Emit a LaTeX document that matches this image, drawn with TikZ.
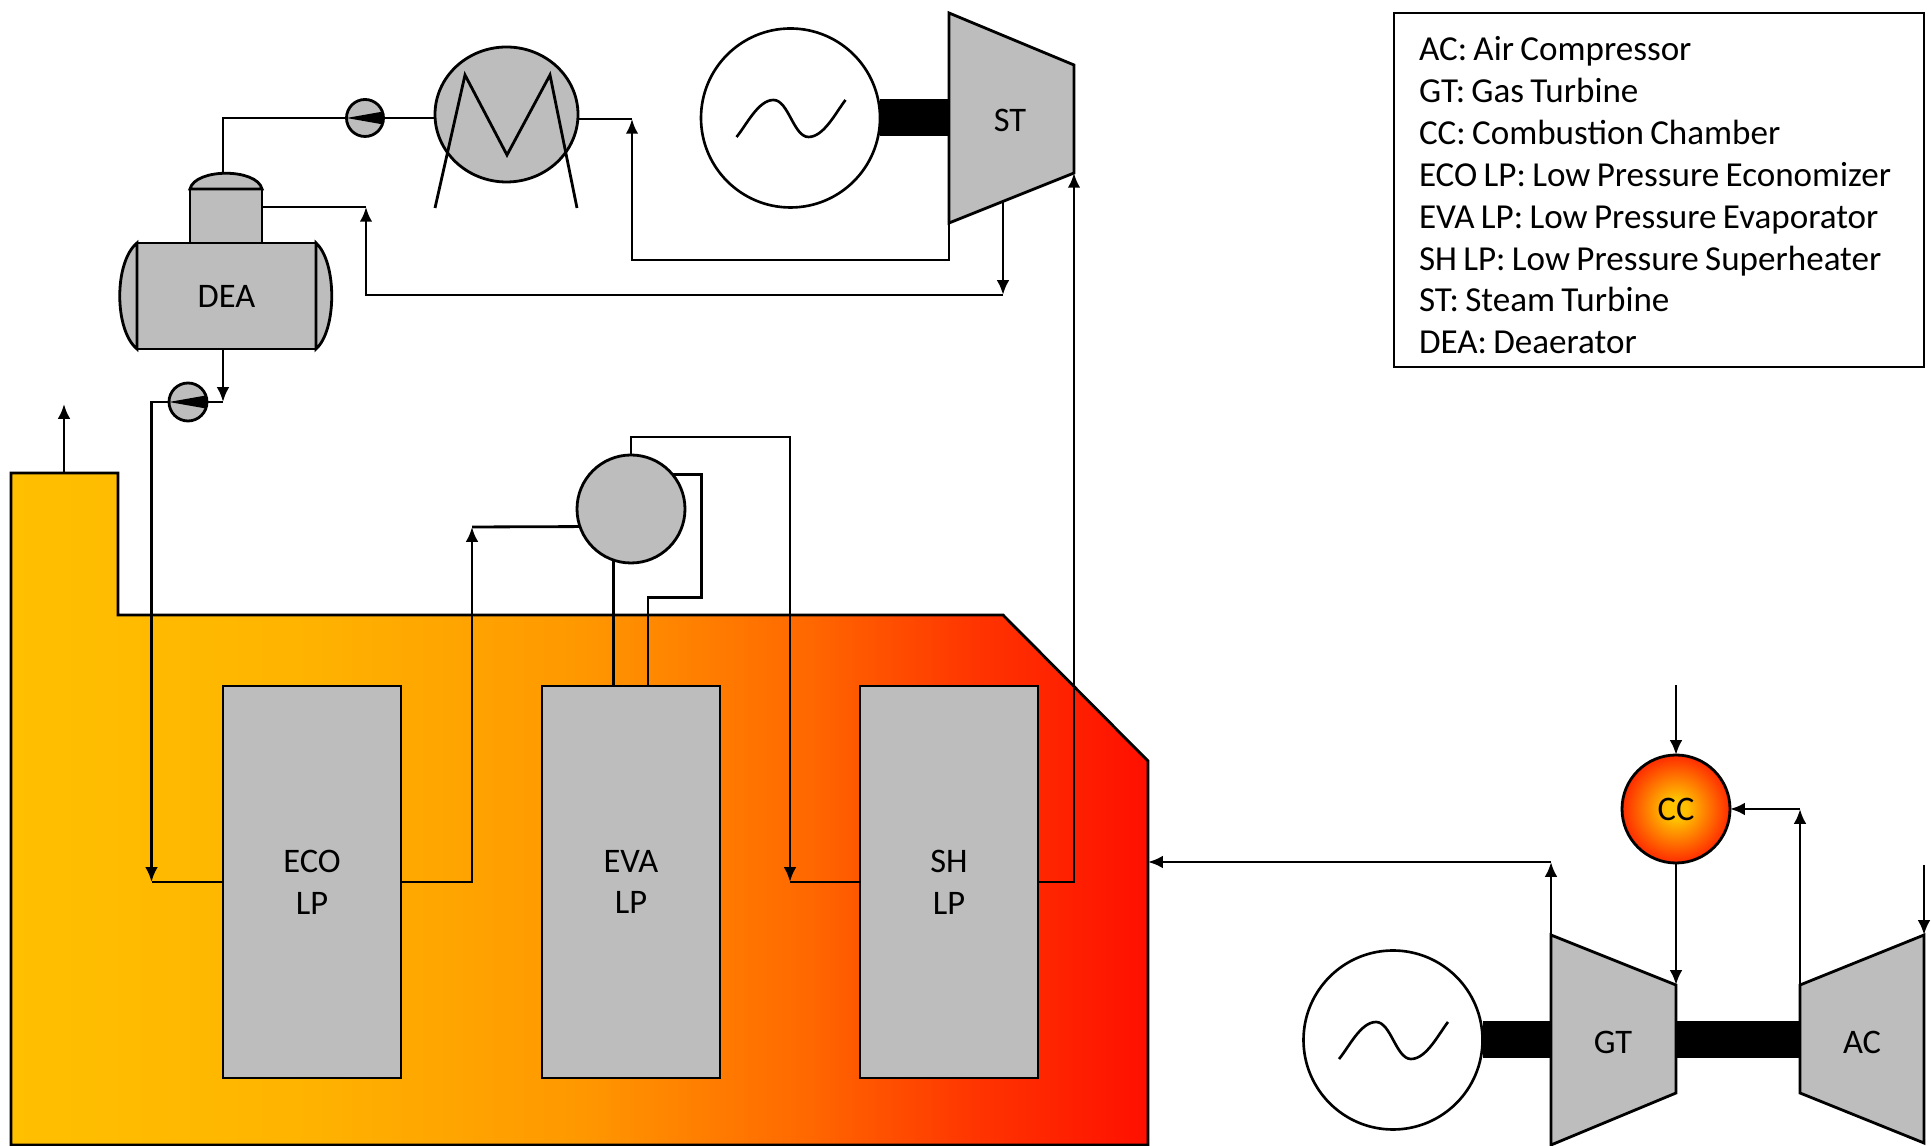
\documentclass[tikz,border=0pt]{standalone}
\usepackage{fontspec}
\setmainfont[WordSpace=0.8]{Carlito}
\usepackage{tikz}
\usetikzlibrary{shapes,arrows.meta,positioning,calc}
\definecolor{equipgray}{HTML}{BDBDBD}
\pgfdeclarehorizontalshading{gasheat}{100bp}{rgb(0bp)=(1,0.753,0); rgb(25bp)=(1,0.753,0); rgb(37.5bp)=(1,0.706,0); rgb(50bp)=(1,0.596,0); rgb(60bp)=(1,0.408,0); rgb(67.5bp)=(1,0.204,0); rgb(75bp)=(1,0.06,0); rgb(100bp)=(1,0.06,0)}
\pgfdeclareradialshading{ccglow}{\pgfpoint{0bp}{0bp}}{rgb(0bp)=(1,0.753,0); rgb(5bp)=(1,0.753,0); rgb(29bp)=(1,0.05,0); rgb(50bp)=(1,0.05,0)}
\tikzset{
    pipe/.style={line width=0.8pt,>={Latex[length=4.2pt,width=3.6pt]}},
    equip/.style={draw,line width=0.8pt,fill=equipgray,outer sep=0pt},
    vessel/.style={equip,minimum width=#1,minimum height=3.92cm,align=center,inner sep=0pt},
    roundeq/.style={equip,circle,minimum size=#1,inner sep=0pt},
    generator/.style={draw,line width=0.75pt,fill=white,circle,minimum size=1.79cm,inner sep=0pt,outer sep=0pt},
    shaft/.style={line width=0.37cm}
}
\begin{document}
\begin{tikzpicture}[font=\fontsize{9.8}{11.9}\selectfont]
    \useasboundingbox (0,0) rectangle (19.31,11.46);

    \shade[draw,line width=0.8pt,shading=gasheat]
        (0.11,0.01) -- (0.11,6.73) -- (1.18,6.73) -- (1.18,5.31) -- (10.03,5.31) -- (11.48,3.85) -- (11.48,0.01) -- cycle;

    \node[vessel=1.78cm] (eco) at (3.12,2.64) {ECO\\LP};
    \node[vessel=1.78cm] (eva) at (6.31,2.64) {EVA\\LP};
    \node[vessel=1.78cm] (sh) at (9.49,2.64) {SH\\LP};
    \node[roundeq=1.08cm] (drum) at (6.31,6.37) {};

    \coordinate (stack) at (0.64,6.73);
    \coordinate (stackout) at (0.64,7.42);
    \coordinate (deatop) at (2.23,9.74);
    \coordinate (pumpin) at (2.23,7.44);
    \coordinate (ecoin) at (1.515,2.64);
    \coordinate (ecotop) at (4.72,6.19);
    \coordinate (shin) at (7.90,2.64);
    \coordinate (stout) at (9.49,9.23);
    \coordinate (stturn) at (6.32,8.86);
    \coordinate (condin) at (6.32,10.27);
    \coordinate (stext) at (10.03,9.45);
    \coordinate (extturn) at (10.03,8.51);
    \coordinate (deain) at (3.66,9.39);
    \coordinate (stin) at (10.74,9.73);
    \coordinate (stshaft) at (9.49,10.28);
    \coordinate (gasin) at (11.48,2.84);
    \coordinate (gtout) at (15.51,2.11);
    \coordinate (gtturn) at (15.51,2.84);
    \coordinate (gtin) at (16.76,1.61);
    \coordinate (fuel) at (16.76,4.61);
    \coordinate (acout) at (18.00,1.61);
    \coordinate (acturn) at (18.00,3.37);
    \coordinate (acin) at (19.24,2.11);
    \coordinate (air) at (19.24,2.81);
    \coordinate (gtleft) at (15.51,1.06);
    \coordinate (gtright) at (16.76,1.06);
    \coordinate (acleft) at (18.00,1.06);

    \node[equip,ellipse,minimum width=1.43cm,minimum height=1.35cm,inner sep=0pt] (cond) at (5.065,10.315) {};
    \node[roundeq=0.37cm] (pumpa) at (3.65,10.28) {};
    \node[roundeq=0.38cm] (pumpb) at (1.88,7.44) {};
    \node[generator] (gena) at (7.905,10.28) {};
    \node[generator] (genb) at (13.93,1.06) {};
    \node[equip,minimum width=0.72cm,minimum height=0.54cm,inner sep=0pt] (dome) at (2.26,9.30) {};
    \node[equip,minimum width=1.79cm,minimum height=1.06cm,inner sep=0pt] (dea) at (2.265,8.50) {DEA};
    \node[draw,line width=0.8pt,fill=white,minimum height=3.54cm,text width=4.80cm,inner xsep=0.25cm,align=flush left,font=\fontsize{9.98}{11.9}\selectfont] (legend) at (16.59,9.56)
        {\rule{0pt}{0.35cm}AC: Air Compressor\\GT: Gas Turbine\\CC: Combustion Chamber\\ECO LP: Low Pressure Economizer\\EVA LP: Low Pressure Evaporator\\SH LP: Low Pressure Superheater\\ST: Steam Turbine\\DEA: Deaerator};
    \node[draw,line width=0.8pt,circle,minimum size=1.08cm,inner sep=0pt,outer sep=0pt,shading=ccglow] (cc) at (16.76,3.37) {CC};

    \draw[shaft] (gena.east) -- (stshaft);
    \draw[shaft] (genb.east) -- (gtleft);
    \draw[shaft] (gtright) -- (acleft);

    \draw[pipe,->] (stack) -- (stackout);
    \draw[pipe,->] (pumpb.west) -| (ecoin);
    \draw[pipe] (ecoin) -- (eco.west);
    \draw[pipe,->] (eco.east) -| (ecotop);
    \draw[pipe] (ecotop) -- (drum.199.5);
    \draw[pipe] (drum.251) -- (drum.251 |- eva.north);
    \draw[pipe] (drum.40) -| ++(0.29,-1.23) -| ($(eva.north)+(0.17,0)$);
    \draw[pipe,->] (drum.north) -- ++(0,0.18) -| (shin);
    \draw[pipe] (shin) -- (sh.west);
    \draw[pipe,->] (sh.east) -| (stin);
    \draw[pipe,->] (stout) |- (stturn) -- (condin);
    \draw[pipe] (condin) -- (condin -| cond.east);
    \draw[pipe,->] (stext) -- (extturn);
    \draw[pipe,->] (extturn) -| (deain);
    \draw[pipe] (deain) -- (deain -| dome.east);
    \draw[pipe] (deatop) |- (pumpa.west);
    \draw[pipe] (pumpa.east) -- (pumpa.east -| cond.west);
    \draw[pipe,->] (deatop |- dea.south) -- (pumpin);
    \draw[pipe] (pumpin) -- (pumpb.east);
    \draw[pipe,->] (fuel) -- (cc.north);
    \draw[pipe,->] (cc.south) -- (gtin);
    \draw[pipe,->] (gtout) -- (gtturn);
    \draw[pipe,->] (gtturn) -- (gasin);
    \draw[pipe,->] (acout) -- (acturn);
    \draw[pipe,->] (acturn) -- (cc.east);
    \draw[pipe,->] (air) -- (acin);

    \draw[equip] (9.49,11.33) -- (10.74,10.81) -- (10.74,9.73) -- (9.49,9.23) -- cycle;
    \draw[equip] (15.51,2.11) -- (16.76,1.61) -- (16.76,0.53) -- (15.51,0.01) -- cycle;
    \draw[equip] (18.00,1.61) -- (19.24,2.11) -- (19.24,0.03) -- (18.00,0.53) -- cycle;
    \node (st) at (10.10,10.26) {ST};
    \node (gt) at (16.13,1.04) {GT};
    \node (ac) at (18.62,1.04) {AC};

    \draw[equip] (dome.north west) .. controls ($(dome.north west)+(0.05,0.21)$) and ($(dome.north east)+(-0.05,0.21)$) .. (dome.north east) -- cycle;
    \draw[equip] (dea.north west) .. controls (1.14,8.84) and (1.14,8.16) .. (dea.south west) -- cycle;
    \draw[equip] (dea.north east) .. controls (3.37,8.84) and (3.37,8.16) .. (dea.south east) -- cycle;

    \draw[line width=0.8pt] (4.35,9.38) -- (4.65,10.71) -- (5.07,9.91) -- (5.50,10.71) -- (5.77,9.38);
    \foreach \p in {pumpa,pumpb}
        \fill (\p.west) -- (\p.20) -- (\p.-20) -- cycle;
    \foreach \g in {gena,genb}
        \draw[line width=0.75pt,looseness=0.75] (\g) ++(-0.54,-0.19) to[out=50,in=180] ++(0.37,0.37) to[out=0,in=180] ++(0.35,-0.37) to[out=0,in=232] ++(0.37,0.37);
\end{tikzpicture}
\end{document}
